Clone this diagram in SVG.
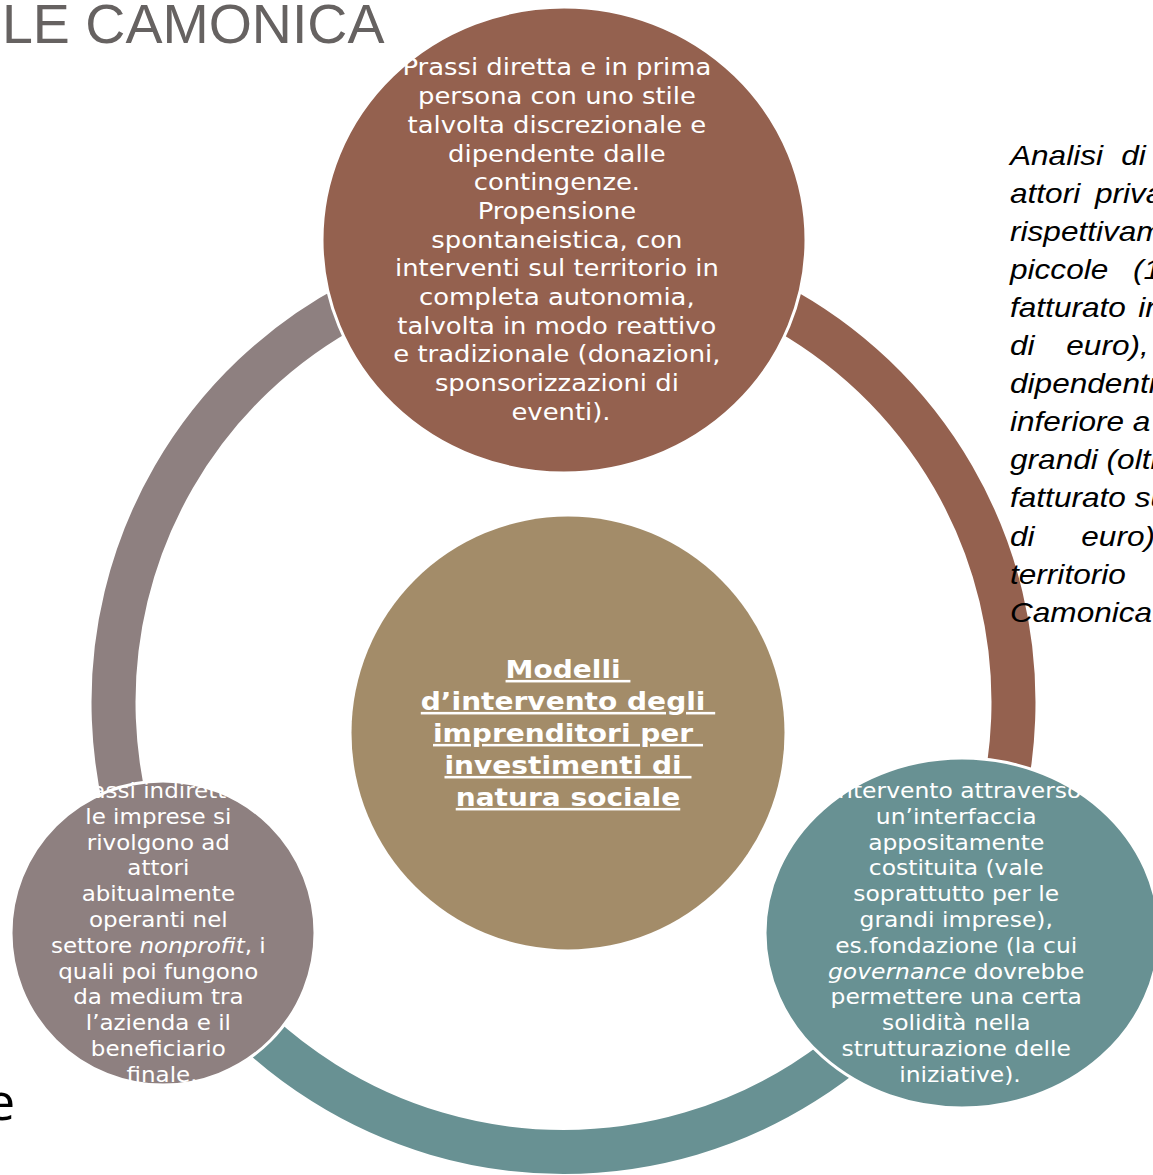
<svg xmlns="http://www.w3.org/2000/svg" width="1153" height="1175" viewBox="0 0 1153 1175">
<style>
.ring{fill:none;stroke-width:44}
.node{stroke:#fff;stroke-width:3}
.nt{font-family:"DejaVu Sans",sans-serif;fill:#fff;text-anchor:middle}
.ct{font-family:"DejaVu Sans",sans-serif;font-weight:bold;fill:#fff;text-anchor:middle;text-decoration:underline;white-space:pre}
.side{font-family:"Liberation Sans",Arial,sans-serif;font-style:italic;font-size:27px;fill:#000}
</style>
<rect width="1153" height="1175" fill="#fff"/>
<g id="connectors">
<path class="ring" stroke="#94614F" d="M563.5 252 A450 450 0 0 1 953.2 927"/>
<path class="ring" stroke="#689193" d="M953.2 927 A450 450 0 0 1 173.8 927"/>
<path class="ring" stroke="#8E8080" d="M173.8 927 A450 450 0 0 1 563.5 252"/>
</g>
<g id="node-top">
<ellipse class="node" cx="564" cy="240" rx="242" ry="233" fill="#94614F"/>
<g transform="matrix(1.1 0 0 1 -56.1 0)">
<text class="nt" font-size="23.5">
<tspan x="561" y="75.5">Prassi diretta e in prima</tspan>
<tspan x="561" y="104.2">persona con uno stile</tspan>
<tspan x="561" y="132.9">talvolta discrezionale e</tspan>
<tspan x="561" y="161.6">dipendente dalle</tspan>
<tspan x="561" y="190.3">contingenze.</tspan>
<tspan x="561" y="219">Propensione</tspan>
<tspan x="561" y="247.7">spontaneistica, con</tspan>
<tspan x="561" y="276.4">interventi sul territorio in</tspan>
<tspan x="561" y="305.1">completa autonomia,</tspan>
<tspan x="561" y="333.8">talvolta in modo reattivo</tspan>
<tspan x="561" y="362.5">e tradizionale (donazioni,</tspan>
<tspan x="561" y="391.2">sponsorizzazioni di</tspan>
<tspan x="561" y="419.9">eventi).</tspan>
</text>
</g>
</g>
<g id="node-left">
<circle class="node" cx="163" cy="933" r="152" fill="#8E8080"/>
<g transform="matrix(1.07 0 0 1 -11.34 0)">
<text class="nt" font-size="21.5">
<tspan x="162" y="798">Prassi indirette:</tspan>
<tspan x="162" y="823.8">le imprese si</tspan>
<tspan x="162" y="849.6">rivolgono ad</tspan>
<tspan x="162" y="875.4">attori</tspan>
<tspan x="162" y="901.2">abitualmente</tspan>
<tspan x="162" y="927">operanti nel</tspan>
<tspan x="162" y="952.8">settore <tspan font-style="italic">nonprofit</tspan>, i</tspan>
<tspan x="162" y="978.6">quali poi fungono</tspan>
<tspan x="162" y="1004.4">da medium tra</tspan>
<tspan x="162" y="1030.2">l’azienda e il</tspan>
<tspan x="162" y="1056">beneficiario</tspan>
<tspan x="162" y="1081.8">finale.</tspan>
</text>
</g>
</g>
<g id="node-right">
<ellipse class="node" cx="962" cy="933" rx="197" ry="175" fill="#689193"/>
<g transform="matrix(1.09 0 0 1 -86.4 0)">
<text class="nt" font-size="21.5">
<tspan x="960" y="798">Intervento attraverso</tspan>
<tspan x="960" y="823.8">un’interfaccia</tspan>
<tspan x="960" y="849.6">appositamente</tspan>
<tspan x="960" y="875.4">costituita (vale</tspan>
<tspan x="960" y="901.2">soprattutto per le</tspan>
<tspan x="960" y="927">grandi imprese),</tspan>
<tspan x="960" y="952.8">es.fondazione (la cui</tspan>
<tspan x="960" y="978.6"><tspan font-style="italic">governance</tspan> dovrebbe</tspan>
<tspan x="960" y="1004.4">permettere una certa</tspan>
<tspan x="960" y="1030.2">solidità nella</tspan>
<tspan x="960" y="1056">strutturazione delle</tspan>
<tspan x="960" y="1081.8">iniziative).</tspan>
</text>
</g>
</g>
<g id="node-center">
<circle cx="568" cy="733" r="216.5" fill="#A38C69"/>
<g transform="matrix(1.1 0 0 1 -56.8 0)">
<text class="ct" font-size="25.5" xml:space="preserve"><tspan x="568" y="678">Modelli </tspan><tspan x="568" y="710">d’intervento degli </tspan><tspan x="568" y="742">imprenditori per </tspan><tspan x="568" y="774">investimenti di </tspan><tspan x="568" y="806">natura sociale</tspan></text>
</g>
</g>
<g id="title">
<text x="2" y="43" font-family="Liberation Sans, Arial, sans-serif" font-size="55.5" fill="#666261">LE CAMONICA</text>
<text x="-14" y="1120" font-family="Open Sans, sans-serif" font-size="52" fill="#000">e</text>
</g>
<g id="side-text" transform="matrix(1.17 0 0 1 -171.7 0)">
<text class="side">
<tspan x="1010" y="165">Analisi</tspan><tspan x="1105.1" y="165">di</tspan>
<tspan x="1010" y="203.1">attori</tspan><tspan x="1082.6" y="203.1">privati,</tspan>
<tspan x="1010" y="241.1">rispettivamente</tspan>
<tspan x="1010" y="279.2">piccole</tspan><tspan x="1115.1" y="279.2">(1-49</tspan>
<tspan x="1010" y="317.2">fatturato</tspan><tspan x="1119.7" y="317.2">inferiore</tspan>
<tspan x="1010" y="355.3">di</tspan><tspan x="1058.1" y="355.3">euro),</tspan>
<tspan x="1010" y="393.4">dipendenti,</tspan>
<tspan x="1010" y="431.4">inferiore a</tspan>
<tspan x="1010" y="469.5">grandi (oltre</tspan>
<tspan x="1010" y="507.5">fatturato superiore</tspan>
<tspan x="1010" y="545.6">di</tspan><tspan x="1070.9" y="545.6">euro)</tspan>
<tspan x="1010" y="583.7">territorio</tspan>
<tspan x="1010" y="621.7">Camonica</tspan>
</text>
</g>
</svg>
